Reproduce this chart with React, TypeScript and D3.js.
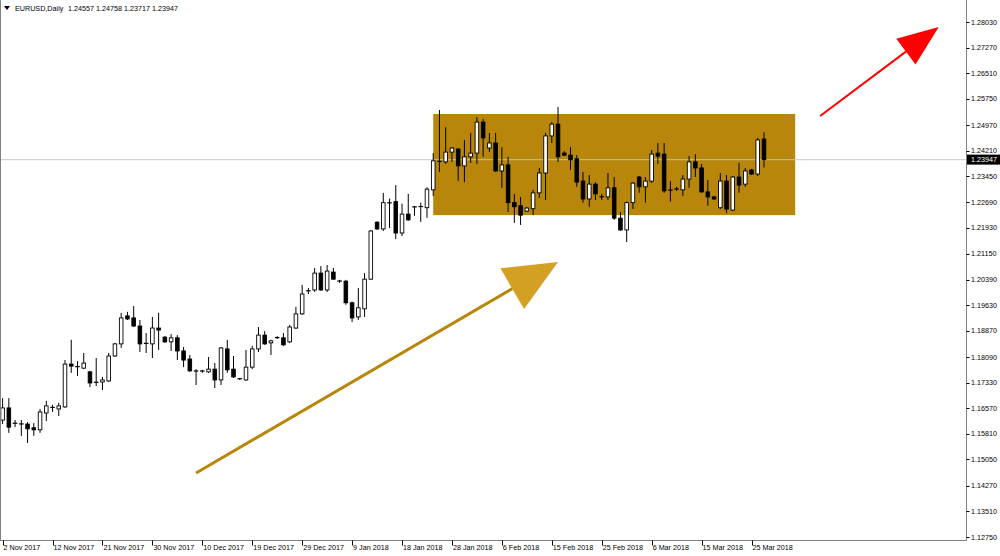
import { useRef, useEffect } from "react";
import * as d3 from "d3";

// Daily EURUSD bars, 2 Nov 2017 .. 27 Mar 2018
const opens = [
  1.1622, 1.1658, 1.1613, 1.161, 1.161, 1.1599, 1.1593, 1.1643, 1.1658, 1.1655,
  1.1661, 1.1788, 1.1782, 1.1776, 1.1765, 1.1735, 1.1735, 1.1738, 1.1812, 1.1848,
  1.1931, 1.1925, 1.1901, 1.1848, 1.1848, 1.1895, 1.1868, 1.1854, 1.1866, 1.1827,
  1.1803, 1.1768, 1.1767, 1.1765, 1.1773, 1.1741, 1.1833, 1.1773, 1.1744, 1.1741,
  1.1779, 1.1833, 1.1874, 1.1851, 1.1866, 1.1866, 1.1854, 1.1895, 1.1937, 1.2005,
  1.2008, 1.2058, 1.2008, 1.2061, 1.2035, 1.2034, 1.197, 1.1928, 1.1952, 1.204,
  1.2209, 1.2189, 1.2267, 1.227, 1.2177, 1.2233, 1.2255, 1.2255, 1.2252, 1.2305,
  1.2391, 1.2388, 1.2417, 1.2426, 1.2376, 1.2403, 1.2414, 1.2506, 1.2429, 1.2444,
  1.2361, 1.2379, 1.2267, 1.2258, 1.2242, 1.2249, 1.2296, 1.2355, 1.2465, 1.25,
  1.2414, 1.2408, 1.2397, 1.2331, 1.2278, 1.2322, 1.2284, 1.2284, 1.2311, 1.2221,
  1.2186, 1.2267, 1.2343, 1.2314, 1.2331, 1.2414, 1.2411, 1.2305, 1.2308, 1.2305,
  1.2337, 1.2388, 1.237, 1.2299, 1.2284, 1.2252, 1.2331, 1.2245, 1.2343, 1.2322,
  1.2364, 1.2352, 1.24557,
];
const highs = [
  1.1687, 1.1687, 1.1622, 1.1622, 1.1616, 1.1613, 1.1655, 1.1679, 1.1667, 1.1673,
  1.18, 1.186, 1.1797, 1.1821, 1.1768, 1.1806, 1.175, 1.1821, 1.1851, 1.194,
  1.1943, 1.196, 1.1919, 1.188, 1.1928, 1.194, 1.1871, 1.1877, 1.1874, 1.1839,
  1.1815, 1.1773, 1.1771, 1.1809, 1.1791, 1.1839, 1.186, 1.1812, 1.1747, 1.183,
  1.1842, 1.1898, 1.1886, 1.186, 1.1871, 1.188, 1.1904, 1.1958, 1.2023, 1.2014,
  1.2073, 1.2079, 1.2082, 1.2073, 1.2038, 1.2038, 1.1973, 1.2014, 1.2058, 1.2186,
  1.2212, 1.2296, 1.2279, 1.2319, 1.2264, 1.2293, 1.2257, 1.2267, 1.2313, 1.2414,
  1.2542, 1.2491, 1.2432, 1.2429, 1.2453, 1.2474, 1.2521, 1.2515, 1.2474, 1.2474,
  1.2432, 1.2403, 1.2293, 1.2284, 1.2254, 1.2305, 1.237, 1.2474, 1.2506, 1.2551,
  1.242, 1.2432, 1.2408, 1.2358, 1.2349, 1.2328, 1.2293, 1.2355, 1.2343, 1.2239,
  1.227, 1.2328, 1.2346, 1.2343, 1.2423, 1.2444, 1.2444, 1.2331, 1.2314, 1.2349,
  1.2405, 1.2411, 1.2382, 1.2334, 1.2287, 1.2355, 1.2349, 1.2346, 1.2385, 1.237,
  1.2367, 1.2459, 1.24758,
];
const lows = [
  1.161, 1.1584, 1.1601, 1.1575, 1.1554, 1.1575, 1.1584, 1.1619, 1.1646, 1.1634,
  1.1658, 1.1762, 1.1753, 1.1773, 1.172, 1.1723, 1.1711, 1.1735, 1.1809, 1.1836,
  1.1919, 1.1898, 1.1824, 1.1821, 1.1806, 1.183, 1.1851, 1.1827, 1.18, 1.1779,
  1.1765, 1.1726, 1.1762, 1.1762, 1.1717, 1.1726, 1.1762, 1.1747, 1.1741, 1.1738,
  1.1773, 1.1824, 1.1845, 1.1815, 1.1863, 1.1842, 1.1851, 1.1892, 1.1934, 1.1996,
  1.2002, 1.2005, 1.2002, 1.2038, 1.2029, 1.1964, 1.1913, 1.1919, 1.1928, 1.2038,
  1.2186, 1.2183, 1.2192, 1.2159, 1.2168, 1.2213, 1.2228, 1.221, 1.2222, 1.2287,
  1.2358, 1.2382, 1.2388, 1.2331, 1.2328, 1.2385, 1.2382, 1.2403, 1.2417, 1.2358,
  1.2311, 1.2239, 1.2207, 1.2201, 1.2239, 1.223, 1.2281, 1.2275, 1.2444, 1.2388,
  1.2405, 1.2364, 1.2314, 1.2267, 1.2255, 1.2275, 1.2275, 1.2275, 1.2216, 1.2183,
  1.215, 1.2248, 1.2296, 1.2267, 1.2325, 1.2382, 1.2296, 1.227, 1.2302, 1.2287,
  1.2311, 1.2343, 1.2296, 1.2258, 1.2275, 1.2248, 1.2236, 1.2242, 1.2296, 1.2314,
  1.2349, 1.2346, 1.23717,
];
const closes = [
  1.1658, 1.1601, 1.1612, 1.1611, 1.1596, 1.1593, 1.1646, 1.1664, 1.1661, 1.1664,
  1.1788, 1.1782, 1.1779, 1.1791, 1.1732, 1.1733, 1.1741, 1.1812, 1.1848, 1.1925,
  1.1922, 1.1901, 1.1848, 1.1851, 1.1895, 1.1889, 1.1854, 1.1866, 1.1827, 1.18,
  1.1768, 1.1767, 1.1768, 1.1773, 1.1741, 1.1836, 1.1771, 1.175, 1.1745, 1.1779,
  1.1833, 1.1874, 1.1848, 1.1857, 1.1867, 1.1845, 1.1898, 1.1937, 1.1996, 1.2006,
  1.2058, 1.2008, 1.2064, 1.204, 1.2034, 1.197, 1.1925, 1.1955, 1.204, 1.2183,
  1.2189, 1.2267, 1.2266, 1.2177, 1.2233, 1.2216, 1.2254, 1.2256, 1.2307, 1.2391,
  1.2388, 1.2417, 1.2429, 1.2376, 1.2403, 1.2414, 1.2506, 1.2459, 1.2444, 1.2361,
  1.2379, 1.2267, 1.2255, 1.223, 1.2251, 1.2296, 1.2355, 1.2465, 1.25, 1.2403,
  1.2408, 1.2394, 1.2328, 1.2278, 1.2322, 1.2293, 1.2285, 1.2311, 1.2221, 1.2186,
  1.2267, 1.2325, 1.2314, 1.2331, 1.2411, 1.2405, 1.2302, 1.2304, 1.2307, 1.2337,
  1.2388, 1.237, 1.2299, 1.2284, 1.2278, 1.2331, 1.2248, 1.2343, 1.2319, 1.2361,
  1.2352, 1.2453, 1.23947,
];

const dateLabels = [
  "2 Nov 2017", "12 Nov 2017", "21 Nov 2017", "30 Nov 2017", "10 Dec 2017",
  "19 Dec 2017", "29 Dec 2017", "9 Jan 2018", "18 Jan 2018", "28 Jan 2018",
  "6 Feb 2018", "15 Feb 2018", "25 Feb 2018", "6 Mar 2018", "15 Mar 2018",
  "25 Mar 2018",
];
const dateLabelBars = [0, 8, 16, 24, 32, 40, 48, 56, 64, 72, 80, 88, 96, 104, 112, 120];

const priceTicks = [
  1.2803, 1.2727, 1.2651, 1.2575, 1.2497, 1.2421, 1.2345, 1.2269, 1.2193,
  1.2115, 1.2039, 1.1963, 1.1887, 1.1809, 1.1733, 1.1657, 1.1581, 1.1505,
  1.1427, 1.1351, 1.1275,
];

const symbolTitle = "EURUSD,Daily";
const titleValues = "1.24557 1.24758 1.23717 1.23947";
const lastPrice = 1.23947;

// consolidation box: [from bar, to bar], [low price, high price]
const boxBars = [69, 127];
const boxPrices = [1.223, 1.253];

// arrows: start bar, start price, tip bar, tip price
const goldArrow = [31, 1.1465, 89, 1.2091];
const redArrow = [131, 1.2524, 150, 1.2788];

export default function App() {
  const svgRef = useRef<SVGSVGElement>(null);

  useEffect(() => {
    if (!svgRef.current) return;
    const svg = d3.select(svgRef.current);
    svg.selectAll("*").remove();

    const width = 1000;
    const height = 556;
    const axisX = 966.5;
    const axisY = 540.5;
    const font = "'Liberation Sans', Arial, sans-serif";
    const fontSize = 7.2;

    const x = d3.scaleLinear().domain([0, 120]).range([2.6, 751.5]);
    const y = d3.scaleLinear().domain([1.1275, 1.2803]).range([537, 22]);

    svg.append("rect").attr("width", width).attr("height", height).attr("fill", "#fff");

    // box behind the candles
    svg
      .append("rect")
      .attr("x", x(boxBars[0]))
      .attr("y", y(boxPrices[1]))
      .attr("width", x(boxBars[1]) - x(boxBars[0]))
      .attr("height", y(boxPrices[0]) - y(boxPrices[1]))
      .attr("fill", "#B8860B");

    // last price line
    svg
      .append("line")
      .attr("x1", 0)
      .attr("x2", axisX)
      .attr("y1", y(lastPrice))
      .attr("y2", y(lastPrice))
      .attr("stroke", "#c4c4c4")
      .attr("stroke-opacity", 0.75)
      .attr("stroke-width", 1.2);

    // candles
    const bars = opens.map((o, i) => ({ i, o, h: highs[i], l: lows[i], c: closes[i] }));
    const bw = 3.6;
    const isDoji = (d: any) => Math.abs(y(d.o) - y(d.c)) < 1.5;
    const g = svg.append("g");

    g.selectAll("line.wick")
      .data(bars)
      .enter()
      .append("line")
      .attr("class", "wick")
      .attr("x1", (d) => x(d.i))
      .attr("x2", (d) => x(d.i))
      .attr("y1", (d) => y(d.h))
      .attr("y2", (d) => y(d.l))
      .attr("stroke", "#000")
      .attr("stroke-width", 1);

    g.selectAll("rect.body")
      .data(bars.filter((d) => !isDoji(d)))
      .enter()
      .append("rect")
      .attr("class", "body")
      .attr("x", (d) => x(d.i) - bw / 2)
      .attr("y", (d) => y(Math.max(d.o, d.c)))
      .attr("width", bw)
      .attr("height", (d) => Math.abs(y(d.o) - y(d.c)))
      .attr("fill", (d) => (d.c >= d.o ? "#fff" : "#000"))
      .attr("stroke", "#000")
      .attr("stroke-width", 0.9);

    g.selectAll("line.doji")
      .data(bars.filter(isDoji))
      .enter()
      .append("line")
      .attr("class", "doji")
      .attr("x1", (d) => x(d.i) - bw / 2 - 0.5)
      .attr("x2", (d) => x(d.i) + bw / 2 + 0.5)
      .attr("y1", (d) => y((d.o + d.c) / 2))
      .attr("y2", (d) => y((d.o + d.c) / 2))
      .attr("stroke", "#000")
      .attr("stroke-width", 1.2);

    // arrows
    const drawArrow = (a: number[], lineColor: string, headColor: string, lw: number, headLen: number, headW: number) => {
      const x0 = x(a[0]);
      const y0 = y(a[1]);
      const x1 = x(a[2]);
      const y1 = y(a[3]);
      const len = Math.hypot(x1 - x0, y1 - y0);
      const ux = (x1 - x0) / len;
      const uy = (y1 - y0) / len;
      const bx = x1 - ux * headLen;
      const by = y1 - uy * headLen;
      svg
        .append("line")
        .attr("x1", x0)
        .attr("y1", y0)
        .attr("x2", bx)
        .attr("y2", by)
        .attr("stroke", lineColor)
        .attr("stroke-width", lw);
      const pts = [
        [x1, y1],
        [bx - uy * headW / 2, by + ux * headW / 2],
        [bx + uy * headW / 2, by - ux * headW / 2],
      ];
      svg.append("polygon").attr("points", pts.map((p) => p.join(",")).join(" ")).attr("fill", headColor);
    };
    drawArrow(goldArrow, "#B8860B", "#D4A023", 3, 53, 47);
    drawArrow(redArrow, "#FF0000", "#FF0000", 2, 41, 32);

    // frame + axes
    const frame = "#808080";
    svg.append("line").attr("x1", 0.5).attr("x2", 0.5).attr("y1", 0).attr("y2", axisY).attr("stroke", frame);
    svg.append("line").attr("x1", axisX).attr("x2", axisX).attr("y1", 0).attr("y2", axisY).attr("stroke", frame);
    svg.append("line").attr("x1", 0).attr("x2", axisX).attr("y1", axisY).attr("y2", axisY).attr("stroke", frame);

    const yTicks = svg.append("g");
    yTicks
      .selectAll("line")
      .data(priceTicks)
      .enter()
      .append("line")
      .attr("x1", axisX)
      .attr("x2", axisX + 3)
      .attr("y1", (d) => Math.round(y(d)) + 0.5)
      .attr("y2", (d) => Math.round(y(d)) + 0.5)
      .attr("stroke", "#000");
    yTicks
      .selectAll("text")
      .data(priceTicks)
      .enter()
      .append("text")
      .attr("x", 971)
      .attr("y", (d) => y(d) + 2.6)
      .attr("font-family", font)
      .attr("font-size", fontSize)
      .attr("fill", "#000")
      .text((d) => d.toFixed(5));

    // last price tag
    svg
      .append("rect")
      .attr("x", 967)
      .attr("y", y(lastPrice) - 5)
      .attr("width", 33)
      .attr("height", 10)
      .attr("fill", "#000");
    svg
      .append("text")
      .attr("x", 971)
      .attr("y", y(lastPrice) + 2.6)
      .attr("font-family", font)
      .attr("font-size", fontSize)
      .attr("fill", "#fff")
      .text(lastPrice.toFixed(5));

    const xTicks = svg.append("g");
    xTicks
      .selectAll("line")
      .data(dateLabelBars)
      .enter()
      .append("line")
      .attr("x1", (d) => Math.round(x(d)) + 0.5)
      .attr("x2", (d) => Math.round(x(d)) + 0.5)
      .attr("y1", axisY)
      .attr("y2", axisY + 5)
      .attr("stroke", "#000");
    xTicks
      .selectAll("text")
      .data(dateLabelBars)
      .enter()
      .append("text")
      .attr("x", (d) => x(d) + 1)
      .attr("y", 550)
      .attr("font-family", font)
      .attr("font-size", fontSize)
      .attr("fill", "#000")
      .text((d, i) => dateLabels[i]);

    // title
    svg.append("path").attr("d", "M4,6 L10,6 L7,10 Z").attr("fill", "#000");
    svg
      .append("text")
      .attr("x", 15)
      .attr("y", 11)
      .attr("font-family", font)
      .attr("font-size", fontSize)
      .attr("fill", "#000")
      .text(symbolTitle);
    svg
      .append("text")
      .attr("x", 68)
      .attr("y", 11)
      .attr("font-family", font)
      .attr("font-size", fontSize)
      .attr("fill", "#000")
      .text(titleValues);
  }, []);

  return (
    <svg
      ref={svgRef}
      width={1000}
      height={556}
      style={{ position: "absolute", left: 0, top: 0, display: "block" }}
    />
  );
}
